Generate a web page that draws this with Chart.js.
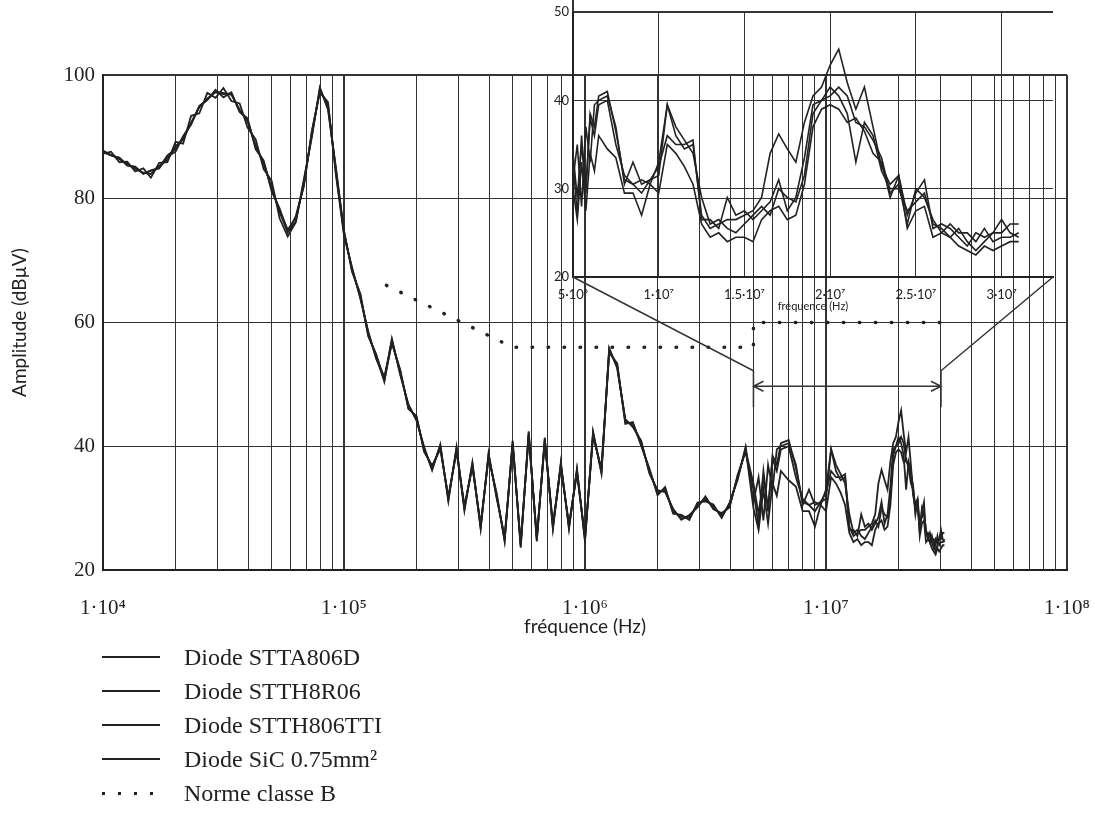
<!DOCTYPE html>
<html>
<head>
<meta charset="utf-8">
<script src="https://cdn.jsdelivr.net/npm/chart.js@4.4.0/dist/chart.umd.min.js"></script>
<style>
  body { margin: 0; background: #fff; }
  #wrap { position: relative; width: 1095px; height: 815px; overflow: hidden; }
  #wrap canvas { position: absolute; left: 0; top: 0; }
  #legend { position: absolute; left: 102px; top: 640px; font-family: "Liberation Serif", serif; font-size: 24px; color: #222; }
  .row { height: 34px; display: flex; align-items: center; }
  .key { width: 58px; height: 2px; margin-right: 24px; background: #222; }
  .key.dots { height: 3px; background: repeating-linear-gradient(90deg, #222 0 3px, transparent 3px 16px); }
</style>
</head>
<body>
<div id="wrap">
  <canvas id="mainChart" width="1095" height="815"></canvas>
  <canvas id="zoomChart" width="1095" height="815"></canvas>
  <div id="legend"></div>
</div>
<script>
// frequences (Hz) : balayage log 10 kHz - 4.6 MHz, puis pas de 0.5 MHz pour le zoom
var freq = [
  10000, 10800, 11700, 12600, 13600, 14700, 15800, 17100, 18500, 20000, 21500, 23200, 25100, 27100, 29300,
  31600, 34100, 36900, 39800, 43000, 46400, 50100, 54100, 58400, 63100, 68100, 73600, 79400, 85800, 92600,
  100000, 108000, 117000, 126000, 136000, 147000, 158000, 171000, 185000, 200000, 215000, 232000, 251000, 271000, 293000,
  316000, 341000, 369000, 398000, 430000, 464000, 501000, 541000, 584000, 631000, 681000, 736000, 794000, 858000, 926000,
  1000000, 1080000, 1170000, 1260000, 1360000, 1470000, 1580000, 1710000, 1850000, 2000000, 2150000,
  2320000, 2510000, 2710000, 2930000, 3160000, 3410000, 3690000, 3980000, 4300000, 4640000,
  5e6, 5.25e6, 5.5e6, 5.75e6, 6e6, 6.25e6, 6.5e6, 7e6, 7.5e6, 8e6, 8.5e6, 9e6, 9.5e6, 10e6, 10.5e6, 11e6,
  11.5e6, 12e6, 12.5e6, 13e6, 13.5e6, 14e6, 14.5e6, 15e6, 15.5e6, 16e6, 16.5e6, 17e6, 17.5e6, 18e6, 18.5e6,
  19e6, 19.5e6, 20e6, 20.5e6, 21e6, 21.5e6, 22e6, 22.5e6, 23e6, 23.5e6, 24e6, 24.5e6, 25e6, 25.5e6, 26e6,
  26.5e6, 27e6, 27.5e6, 28e6, 28.5e6, 29e6, 29.5e6, 30e6, 30.5e6, 31e6
];

// amplitudes (dBµV)
var stta806d = [
  87.8, 87.0, 86.6, 85.4, 85.2, 84.0, 84.6, 85.0, 87.0, 88.0, 90.0, 92.0, 95.0, 96.0, 97.6, 96.4, 97.2, 94.0, 93.0, 88.0,
  86.2, 81.2, 78.4, 74.6, 77.2, 82.0, 91.0, 97.2, 95.6, 83.8, 74.1, 68.9, 63.8, 58.6, 54.1, 51.2, 56.6, 52.4, 46.0, 44.9,
  39.1, 36.9, 39.5, 31.9, 39.1, 30.4, 36.6, 27.4, 38.1, 32.4, 24.6, 40.9, 23.6, 42.4, 24.6, 41.4, 26.6, 37.4, 26.6, 36.4,
  24.6, 42.4, 35.6, 55.9, 52.6, 44.4, 43.1, 40.9, 35.6, 32.9, 32.6, 29.9, 28.1, 28.9, 30.1, 31.9, 29.8, 29.2, 30.1, 35.4, 39.1,
  33, 27, 36, 29.5, 38.5, 37, 40.5, 41, 36.5, 31, 30.5, 31, 30.5, 33, 39.5, 36, 34.5, 35, 27, 25.5, 26, 26.5, 26.5, 27,
  27.5, 29, 34, 36.2, 34.5, 33, 37.5, 40.5, 41.5, 44, 45.8, 42, 39, 41.5, 37, 32.5, 30.5, 31.5, 27, 29.5, 31, 25.5, 26,
  25.5, 24.5, 23.5, 25, 24.5, 25, 25, 26, 26
];
var stth8r06 = [
  87.5, 87.0, 86.6, 85.4, 85.1, 84.1, 84.5, 84.9, 86.8, 87.6, 90.1, 92.1, 94.9, 96.0, 97.4, 96.9, 97.0, 94.2, 92.7, 88.4,
  85.9, 81.6, 78.1, 75.0, 76.9, 82.1, 90.9, 97.3, 95.4, 84.1, 74.8, 68.2, 64.6, 57.8, 54.9, 50.4, 57.4, 51.6, 46.8, 44.1,
  39.9, 36.1, 40.3, 31.1, 39.9, 29.6, 37.4, 26.6, 38.9, 31.6, 25.4, 40.1, 24.4, 41.6, 25.4, 40.6, 27.4, 36.6, 27.4, 35.6,
  25.4, 41.6, 36.4, 55.1, 53.4, 43.6, 43.9, 40.1, 36.4, 32.1, 33.4, 29.1, 28.9, 28.1, 30.9, 31.1, 30.6, 28.4, 30.9, 34.6, 39.9,
  31, 35, 28, 37, 33, 39.5, 40, 40.5, 37, 30.5, 33, 30.5, 31, 32.5, 36, 35, 35, 35.5, 26.5, 26.5, 25.5, 29, 27, 27.5,
  26.5, 27.5, 28.5, 31, 27.5, 29, 33.5, 39.5, 40, 40.5, 41.5, 40.5, 37.5, 37, 35.5, 33.5, 29.5, 30.5, 26, 30, 29, 26.5, 25,
  26, 25, 25, 24, 25.5, 24, 24.5, 24.5, 25
];
var stth806tti = [
  87.7, 87.1, 86.4, 85.7, 84.8, 84.2, 84.0, 85.3, 86.3, 88.5, 89.6, 92.3, 94.8, 96.2, 97.2, 97.1, 96.8, 94.4, 92.5, 88.6,
  85.7, 81.8, 77.8, 74.6, 76.3, 82.7, 90.3, 97.8, 94.8, 84.7, 74.3, 68.7, 64.0, 58.4, 54.3, 50.6, 56.8, 52.2, 46.2, 44.7,
  39.3, 36.7, 39.7, 31.7, 39.3, 30.2, 36.8, 27.2, 38.3, 32.2, 24.8, 40.7, 23.8, 42.2, 24.8, 41.2, 26.8, 37.2, 26.8, 36.2,
  24.8, 42.2, 35.8, 55.7, 52.8, 44.2, 43.3, 40.7, 35.8, 32.7, 32.8, 29.7, 28.3, 28.7, 30.3, 31.7, 30.0, 29.0, 30.3, 35.2, 39.3,
  34, 29, 35, 30, 38, 36, 39.5, 40, 35, 31.5, 30.5, 29.5, 31, 31.5, 39.5, 37, 35.5, 34, 29, 26, 26.5, 25.5, 25, 26,
  27, 28, 27, 30, 29, 28.5, 31.5, 38.5, 40, 41.5, 40.5, 38.5, 33, 37.5, 36, 32, 30, 30, 27.5, 28.5, 29.5, 26, 25.5,
  24.5, 25.5, 24, 23, 24, 25, 26.5, 25, 24.5
];
var sic075 = [
  87.3, 87.6, 85.9, 86.0, 84.4, 84.9, 83.4, 85.8, 85.9, 89.2, 88.9, 93.4, 93.8, 97.1, 96.3, 97.9, 95.8, 95.4, 91.5, 89.6,
  84.8, 82.9, 76.8, 73.9, 76.2, 83.1, 90.0, 98.0, 94.4, 85.0, 74.7, 68.4, 64.4, 58.0, 54.7, 51.0, 57.2, 51.8, 46.6, 44.3,
  39.7, 36.3, 40.1, 31.3, 39.7, 29.8, 37.2, 26.8, 38.7, 31.8, 25.2, 40.3, 24.2, 41.8, 25.2, 40.8, 27.2, 36.8, 27.2, 35.8,
  25.2, 41.8, 36.2, 55.3, 53.2, 43.8, 43.7, 40.3, 36.2, 32.3, 33.2, 29.3, 28.7, 28.3, 30.7, 31.3, 30.4, 28.6, 30.7, 34.8, 39.7,
  30, 26.5, 33, 27.5, 34, 32, 36, 34.5, 33.5, 29.5, 29.5, 27, 30.5, 29.5, 35, 34, 32.5, 30.5, 26, 24.5, 25, 24, 24.5, 24.5,
  24, 26.5, 27.5, 28, 26.5, 27, 30.5, 37, 39, 39.5, 39, 37.5, 38, 36.5, 34, 33, 29, 31.5, 25.5, 27.5, 28, 24.5, 25,
  24.5, 23.5, 23, 22.5, 23.5, 23, 23.5, 24, 24
];

// norme CISPR classe B
var normeFreq = [1.5e5, 5e5, 5e6, 5e6, 3e7];
var normeLevel = [66, 56, 56, 60, 60];

var seriesNames = ['Diode STTA806D', 'Diode STTH8R06', 'Diode STTH806TTI', 'Diode SiC 0.75mm²'];
var normeName = 'Norme classe B';

// axes
var decades = [1e4, 1e5, 1e6, 1e7, 1e8];
var decadeLabels = ['1·10⁴', '1·10⁵', '1·10⁶', '1·10⁷', '1·10⁸'];
var ampTicks = [20, 40, 60, 80, 100];
var zoomFreqTicks = [5e6, 1e7, 1.5e7, 2e7, 2.5e7, 3e7];
var zoomFreqLabels = ['5·10⁶', '1·10⁷', '1.5·10⁷', '2·10⁷', '2.5·10⁷', '3·10⁷'];
var zoomAmpTicks = [20, 30, 40, 50];
var zoomSpan = [5e6, 3e7];

var ink = '#222';
var logGrid = [];
decades.forEach(function (d, k) {
  if (k === decades.length - 1) { logGrid.push(d); return; }
  for (var m = 1; m < 10; m++) logGrid.push(m * d);
});

function pts(ys) {
  return freq.map(function (f, i) { return { x: f, y: ys[i] }; });
}
var diodeData = [stta806d, stth8r06, stth806tti, sic075];
function diodeSets(width) {
  return diodeData.map(function (arr, k) {
    return { label: seriesNames[k], data: pts(arr), borderColor: ink, borderWidth: width, pointRadius: 0, tension: 0 };
  });
}

var mainSets = diodeSets(1.8);
mainSets.push({
  label: normeName,
  data: normeFreq.map(function (f, i) { return { x: f, y: normeLevel[i] }; }),
  borderColor: ink, borderWidth: 3.5, borderDash: [0.5, 15.5], borderCapStyle: 'round',
  pointRadius: 0, tension: 0
});

var mainChart = new Chart(document.getElementById('mainChart'), {
  type: 'line',
  data: { datasets: mainSets },
  options: {
    responsive: false, animation: false, events: [],
    layout: { padding: { left: 0, top: 75, right: 28, bottom: 173 } },
    plugins: { legend: { display: false }, tooltip: { enabled: false } },
    scales: {
      x: {
        type: 'logarithmic', min: 1e4, max: 1e8,
        afterBuildTicks: function (s) { s.ticks = logGrid.map(function (v) { return { value: v }; }); },
        afterFit: function (s) { s.height = 72; s.paddingLeft = 0; s.paddingRight = 0; },
        ticks: {
          autoSkip: false, maxRotation: 0, padding: 26, color: ink,
          font: { family: 'Liberation Serif', size: 21 },
          callback: function (v) { var k = decades.indexOf(v); return k < 0 ? '' : decadeLabels[k]; }
        },
        grid: {
          drawTicks: false, color: '#333',
          lineWidth: function (c) { return decades.indexOf(c.tick.value) >= 0 ? 2 : 1; }
        },
        border: { display: true, width: 2, color: ink },
        title: { display: true, text: 'fréquence (Hz)', color: ink, font: { family: 'Lato', size: 19 }, padding: { top: 0 } }
      },
      y: {
        min: 20, max: 100,
        afterBuildTicks: function (s) { s.ticks = ampTicks.map(function (v) { return { value: v }; }); },
        afterFit: function (s) { s.width = 103; s.paddingTop = 0; s.paddingBottom = 0; },
        ticks: { padding: 8, color: ink, font: { family: 'Liberation Serif', size: 21 } },
        grid: {
          drawTicks: false, color: '#333',
          lineWidth: function (c) { return c.tick.value === 100 ? 2 : 1; }
        },
        border: { display: true, width: 2, color: ink },
        title: { display: true, text: 'Amplitude (dBµV)', color: ink, font: { family: 'Lato', size: 19 }, padding: { top: 8, bottom: 0 } }
      }
    }
  }
});

// lignes de rappel entre la zone zoomée et l'encart
var zoomLinks = {
  id: 'zoomLinks',
  afterDraw: function (chart) {
    var mx = mainChart.scales.x, my = mainChart.scales.y;
    var zx = chart.scales.x, zy = chart.scales.y;
    var ctx = chart.ctx;
    var xl = mx.getPixelForValue(zoomSpan[0]), xr = mx.getPixelForValue(zoomSpan[1]);
    var yTop = my.getPixelForValue(52.2), yBot = my.getPixelForValue(46.3), yArr = my.getPixelForValue(49.7);
    ctx.save();
    ctx.strokeStyle = '#333';
    ctx.lineWidth = 1.5;
    ctx.beginPath();
    ctx.moveTo(zx.left, zy.bottom); ctx.lineTo(xl, yTop); ctx.lineTo(xl, yBot);
    ctx.moveTo(zx.right, zy.bottom); ctx.lineTo(xr, yTop); ctx.lineTo(xr, yBot);
    ctx.moveTo(xl, yArr); ctx.lineTo(xr, yArr);
    ctx.moveTo(xl + 10, yArr - 5); ctx.lineTo(xl, yArr); ctx.lineTo(xl + 10, yArr + 5);
    ctx.moveTo(xr - 10, yArr - 5); ctx.lineTo(xr, yArr); ctx.lineTo(xr - 10, yArr + 5);
    ctx.stroke();
    // bord gauche de l'encart prolongé vers le haut
    ctx.lineWidth = 2;
    ctx.beginPath();
    ctx.moveTo(zx.left, 0); ctx.lineTo(zx.left, zy.top);
    ctx.stroke();
    ctx.restore();
  }
};

var zoomChart = new Chart(document.getElementById('zoomChart'), {
  type: 'line',
  data: { datasets: diodeSets(1.6) },
  options: {
    responsive: false, animation: false, events: [],
    layout: { padding: { left: 543, top: 12, right: 42, bottom: 502 } },
    plugins: { legend: { display: false }, tooltip: { enabled: false } },
    scales: {
      x: {
        type: 'linear', min: 5e6, max: 3.3e7,
        afterBuildTicks: function (s) { s.ticks = zoomFreqTicks.map(function (v) { return { value: v }; }); },
        afterFit: function (s) { s.height = 36; s.paddingLeft = 0; s.paddingRight = 0; },
        ticks: {
          autoSkip: false, maxRotation: 0, padding: 10, color: ink,
          font: { family: 'Lato', size: 13 },
          callback: function (v) { var k = zoomFreqTicks.indexOf(v); return k < 0 ? '' : zoomFreqLabels[k]; }
        },
        grid: {
          drawTicks: false, color: '#333',
          lineWidth: function (c) { return c.tick.value === 5e6 ? 2 : 1; }
        },
        border: { display: true, width: 2, color: ink },
        title: { display: true, text: 'fréquence (Hz)', color: ink, font: { family: 'Lato', size: 11 }, padding: 0 }
      },
      y: {
        min: 20, max: 50,
        afterBuildTicks: function (s) { s.ticks = zoomAmpTicks.map(function (v) { return { value: v }; }); },
        afterFit: function (s) { s.width = 30; s.paddingTop = 0; s.paddingBottom = 0; },
        ticks: { padding: 4, color: ink, font: { family: 'Lato', size: 13 } },
        grid: {
          drawTicks: false, color: '#333',
          lineWidth: function (c) { return (c.tick.value === 50 || c.tick.value === 20) ? 2 : 1; }
        },
        border: { display: true, width: 2, color: ink }
      }
    }
  },
  plugins: [zoomLinks]
});

// légende
var legend = document.getElementById('legend');
seriesNames.concat([normeName]).forEach(function (name, k) {
  var row = document.createElement('div');
  row.className = 'row';
  var key = document.createElement('span');
  key.className = k === seriesNames.length ? 'key dots' : 'key';
  var txt = document.createElement('span');
  txt.textContent = name;
  row.appendChild(key);
  row.appendChild(txt);
  legend.appendChild(row);
});
</script>
</body>
</html>
